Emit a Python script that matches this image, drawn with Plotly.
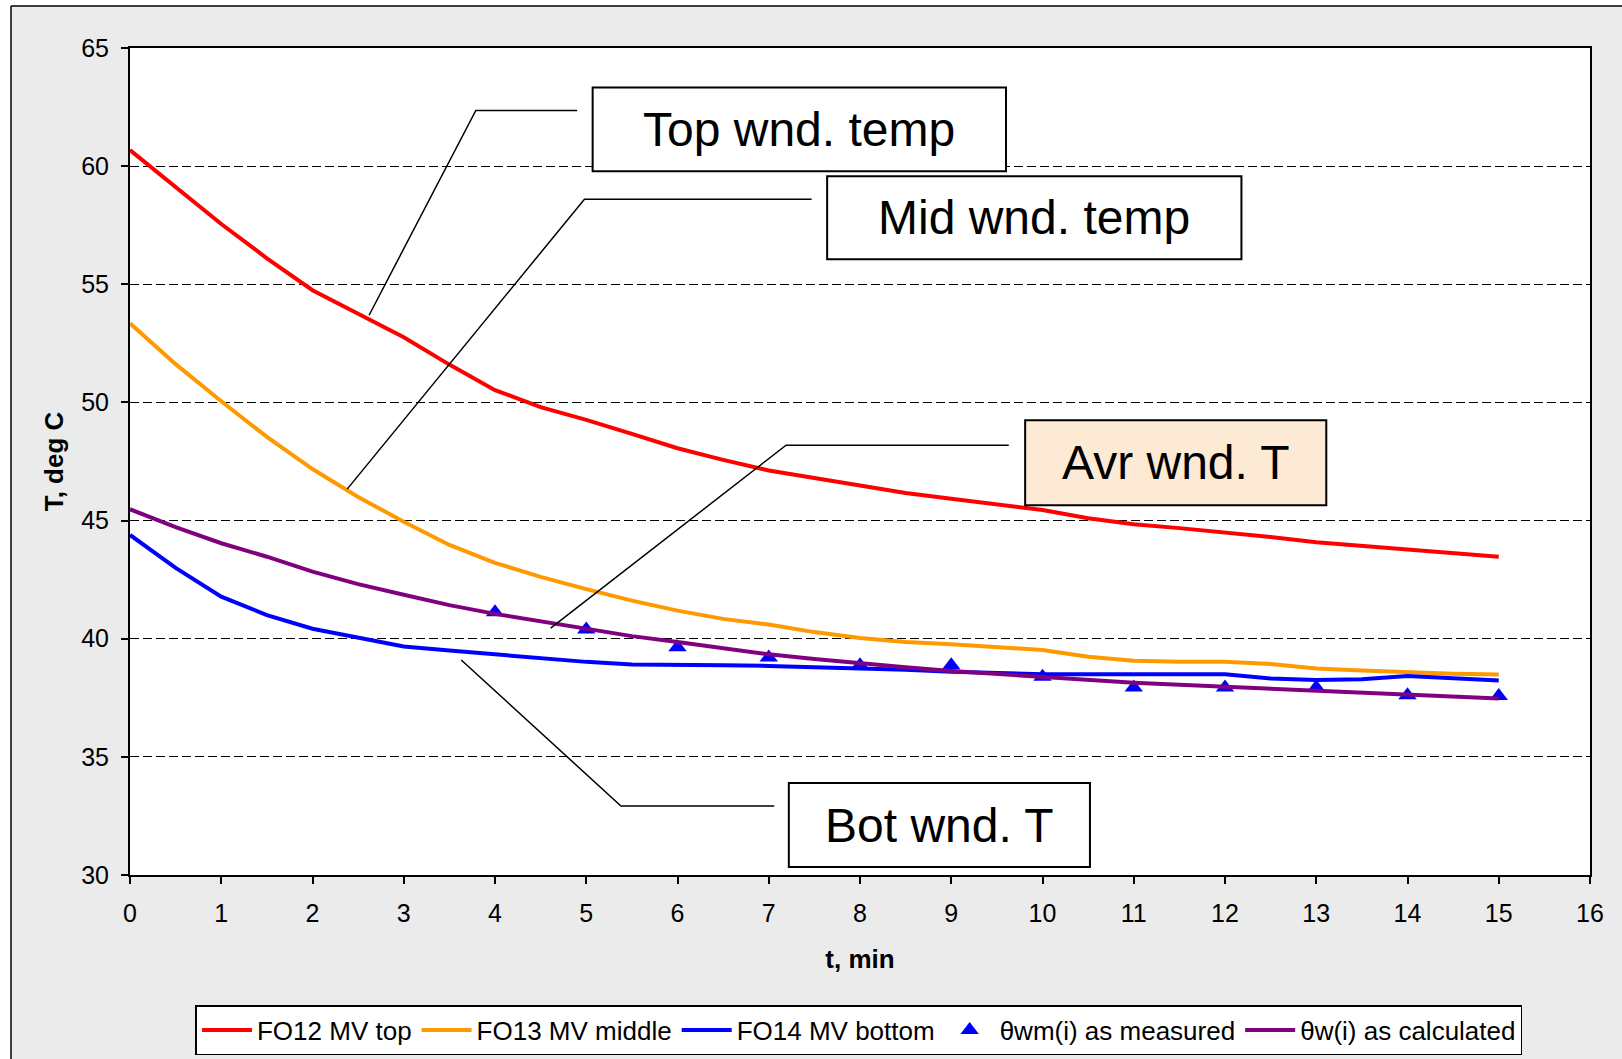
import plotly.graph_objects as go

# ---------------- data ----------------
t_min = [0, 0.5, 1, 1.5, 2, 2.5, 3, 3.5, 4, 4.5, 5, 5.5, 6, 6.5, 7, 7.5,
         8, 8.5, 9, 9.5, 10, 10.5, 11, 11.5, 12, 12.5, 13, 13.5, 14, 14.5, 15]

fo12_top = [60.68, 59.10, 57.55, 56.10, 54.75, 53.75, 52.76, 51.60, 50.52, 49.80,
            49.26, 48.67, 48.06, 47.57, 47.12, 46.80, 46.48, 46.17, 45.92, 45.70,
            45.45, 45.10, 44.84, 44.68, 44.51, 44.30, 44.08, 43.92, 43.76, 43.60, 43.47]

fo13_middle = [53.35, 51.62, 50.05, 48.54, 47.18, 46.00, 44.95, 43.97, 43.21, 42.62,
               42.10, 41.61, 41.19, 40.84, 40.60, 40.28, 40.03, 39.86, 39.77, 39.65,
               39.52, 39.24, 39.07, 39.03, 39.03, 38.93, 38.74, 38.65, 38.57, 38.52, 38.49]

fo14_bottom = [44.39, 43.00, 41.78, 41.00, 40.42, 40.05, 39.67, 39.50, 39.34, 39.17,
               39.02, 38.91, 38.91, 38.88, 38.85, 38.81, 38.77, 38.69, 38.60, 38.55,
               38.50, 38.50, 38.50, 38.50, 38.50, 38.32, 38.25, 38.28, 38.42, 38.33, 38.23]

theta_w_calc = [45.48, 44.72, 44.04, 43.47, 42.84, 42.31, 41.86, 41.42, 41.05, 40.73,
                40.42, 40.11, 39.86, 39.60, 39.34, 39.14, 38.95, 38.79, 38.63, 38.50,
                38.36, 38.25, 38.14, 38.05, 37.97, 37.87, 37.78, 37.70, 37.61, 37.54, 37.47]

t_meas = [4, 5, 6, 7, 8, 9, 10, 11, 12, 13, 14, 15]
theta_wm_meas = [41.12, 40.39, 39.64, 39.21, 38.88, 38.88, 38.39, 37.94, 37.94, 37.94, 37.61, 37.58]

x_ticks = list(range(0, 17))
y_ticks = [30, 35, 40, 45, 50, 55, 60, 65]

# call-out labels: text, box [x0, x1, y0, y1], leader polyline (x list, y list), fill
callouts = [
    ("Top wnd. temp", [5.07, 9.60, 59.78, 63.33], ([4.90, 3.79, 2.62], [62.36, 62.36, 53.69]), "white"),
    ("Mid wnd. temp", [7.64, 12.18, 56.06, 59.57], ([7.47, 4.98, 2.38], [58.60, 58.60, 46.33]), "white"),
    ("Avr wnd. T", [9.81, 13.11, 45.65, 49.25], ([9.63, 7.19, 4.61], [48.19, 48.19, 40.45]), "#FDEAD4"),
    ("Bot wnd. T", [7.22, 10.52, 30.34, 33.89], ([7.06, 5.38, 3.63], [32.92, 32.92, 39.10]), "white"),
]

# ---------------- figure ----------------
W, H = 1622, 1059
ML, MR, MT, MB = 130, 32, 48, 184
FONT = "Liberation Sans, Arial, sans-serif"

fig = go.Figure()
fig.add_trace(go.Scatter(x=t_min, y=fo12_top, mode="lines", name="FO12 MV top",
                         line=dict(color="#FF0000", width=4)))
fig.add_trace(go.Scatter(x=t_min, y=fo13_middle, mode="lines", name="FO13 MV middle",
                         line=dict(color="#FF9900", width=4)))
fig.add_trace(go.Scatter(x=t_min, y=fo14_bottom, mode="lines", name="FO14 MV bottom",
                         line=dict(color="#0000FF", width=4)))
fig.add_trace(go.Scatter(x=t_meas, y=theta_wm_meas, mode="markers", name="θwm(i) as measured",
                         marker=dict(symbol="triangle-up", size=16, color="#0000FF")))
fig.add_trace(go.Scatter(x=t_min, y=theta_w_calc, mode="lines", name="θw(i) as calculated",
                         line=dict(color="#800080", width=4)))

pw = W - ML - MR
ph = H - MT - MB


def px_x(px):
    return (px - ML) / pw


def px_y(py):
    return (H - MB - py) / ph


shapes = []
# white page margin left of / above the chart-area frame
shapes.append(dict(type="rect", xref="paper", yref="paper",
                   x0=px_x(-50), x1=px_x(11), y0=px_y(H + 50), y1=px_y(-50),
                   fillcolor="white", line=dict(width=0), layer="below"))
shapes.append(dict(type="rect", xref="paper", yref="paper",
                   x0=px_x(-50), x1=px_x(W + 50), y0=px_y(6), y1=px_y(-50),
                   fillcolor="white", line=dict(width=0), layer="below"))
# frame lines (left and top edges of the chart area)
shapes.append(dict(type="line", xref="paper", yref="paper",
                   x0=px_x(11), x1=px_x(11), y0=px_y(H + 50), y1=px_y(6),
                   line=dict(color="black", width=1.5), layer="below"))
shapes.append(dict(type="line", xref="paper", yref="paper",
                   x0=px_x(11), x1=px_x(W + 50), y0=px_y(6), y1=px_y(6),
                   line=dict(color="black", width=1.5), layer="below"))

annotations = []
for text, (bx0, bx1, by0, by1), (lx, ly), fill in callouts:
    path = "M {} {} L {} {} L {} {}".format(lx[0], ly[0], lx[1], ly[1], lx[2], ly[2])
    shapes.append(dict(type="path", xref="x", yref="y", path=path,
                       line=dict(color="black", width=1.5), layer="above"))
    shapes.append(dict(type="rect", xref="x", yref="y", x0=bx0, x1=bx1, y0=by0, y1=by1,
                       fillcolor=fill, line=dict(color="black", width=2), layer="above"))
    annotations.append(dict(x=(bx0 + bx1) / 2, y=(by0 + by1) / 2, xref="x", yref="y",
                            text=text, showarrow=False,
                            font=dict(family=FONT, size=48, color="black")))

fig.update_layout(
    width=W, height=H,
    margin=dict(l=ML, r=MR, t=MT, b=MB, pad=0, autoexpand=False),
    paper_bgcolor="#EBEBEB",
    plot_bgcolor="white",
    font=dict(family=FONT, size=25, color="black"),
    showlegend=True,
    legend=dict(orientation="h", x=0.4993, xanchor="center",
                yref="container", y=1 - 1005 / H, yanchor="top",
                bgcolor="white", bordercolor="black", borderwidth=1.5,
                font=dict(family=FONT, size=26, color="black"),
                itemwidth=50, tracegroupgap=0),
    shapes=shapes,
    annotations=annotations,
)

fig.update_xaxes(range=[0, 16], tickvals=x_ticks, ticktext=[str(v) for v in x_ticks],
                 showgrid=False, zeroline=False, automargin=False,
                 showline=True, linecolor="black", linewidth=2, mirror=True,
                 ticks="outside", ticklen=7, tickwidth=1.5, tickcolor="black",
                 ticklabelstandoff=8,
                 tickfont=dict(family=FONT, size=25, color="black"),
                 title=dict(text="<b>t, min</b>", standoff=24,
                            font=dict(family=FONT, size=26, color="black")))
fig.update_yaxes(range=[30, 65], tickvals=y_ticks, ticktext=[str(v) for v in y_ticks],
                 showgrid=True, gridcolor="black", gridwidth=1, griddash="9px,4px",
                 zeroline=False, automargin=False,
                 showline=True, linecolor="black", linewidth=2, mirror=True,
                 ticks="outside", ticklen=7, tickwidth=1.5, tickcolor="black",
                 ticklabelstandoff=7,
                 tickfont=dict(family=FONT, size=25, color="black"),
                 title=dict(text="<b>T, deg C</b>", standoff=10,
                            font=dict(family=FONT, size=26, color="black")))

fig.write_html(
    "out.html", config={"displayModeBar": False},
    post_script=("document.documentElement.style.overflow='hidden';"
                 "document.documentElement.style.background='#EBEBEB';"
                 "document.body.style.margin='0';document.body.style.overflow='hidden';"
                 "document.body.style.background='#EBEBEB';"))
